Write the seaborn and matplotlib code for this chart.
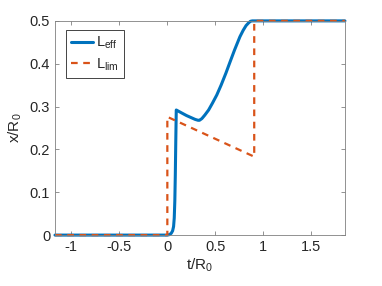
import pandas as pd
import matplotlib
matplotlib.use("Agg")
import matplotlib.pyplot as plt
import seaborn as sns

# L_eff curve
t_eff = [-1.17, 0.0, 0.02, 0.04, 0.055, 0.065, 0.072, 0.078, 0.083, 0.088, 0.093,
         0.15, 0.2, 0.25, 0.29, 0.32, 0.335, 0.36, 0.39, 0.43, 0.47, 0.515, 0.56,
         0.61, 0.653, 0.7, 0.756, 0.79, 0.82, 0.845, 0.865, 0.885, 1.85]
x_eff = [0.0, 0.0, 0.001, 0.004, 0.01, 0.02, 0.04, 0.08, 0.14, 0.22, 0.292,
         0.285, 0.279, 0.274, 0.27, 0.268, 0.268, 0.272, 0.28, 0.292, 0.308, 0.327, 0.35,
         0.378, 0.404, 0.432, 0.463, 0.478, 0.489, 0.495, 0.499, 0.5, 0.5]

# L_lim curve
t_lim = [-1.17, 0.0, 0.0, 0.905, 0.905, 1.85]
x_lim = [0.0, 0.0, 0.276, 0.183, 0.5, 0.5]

blue = "#0072BD"
orange = "#D95319"

sns.set_style("ticks")
plt.rcParams["font.family"] = ["Liberation Sans", "DejaVu Sans"]
plt.rcParams["mathtext.fontset"] = "custom"
plt.rcParams["mathtext.rm"] = "Liberation Sans"
plt.rcParams["mathtext.it"] = "Liberation Sans"

fig = plt.figure(figsize=(3.82, 2.86), dpi=100)
ax = fig.add_axes([0.144, 0.178, 0.759, 0.749])

df_eff = pd.DataFrame({"t": t_eff, "x": x_eff})
df_lim = pd.DataFrame({"t": t_lim, "x": x_lim})

sns.lineplot(data=df_eff, x="t", y="x", ax=ax, color=blue, lw=2.2,
             sort=False, estimator=None, label=r"L$_{\rm eff}$")
sns.lineplot(data=df_lim, x="t", y="x", ax=ax, color=orange, lw=1.6,
             sort=False, estimator=None, label=r"L$_{\rm lim}$",
             linestyle=(0, (3, 2.5)))
for ln in ax.get_lines():
    ln.set_clip_on(False)

ax.set_xlim(-1.17, 1.85)
ax.set_ylim(0, 0.5)
ax.set_xticks([-1, -0.5, 0, 0.5, 1, 1.5])
ax.set_xticklabels(["-1", "-0.5", "0", "0.5", "1", "1.5"])
ax.set_yticks([0, 0.1, 0.2, 0.3, 0.4, 0.5])
ax.set_yticklabels(["0", "0.1", "0.2", "0.3", "0.4", "0.5"])
ax.set_xlabel(r"t/R$_0$", fontsize=11, color="#262626", labelpad=2)
ax.set_ylabel(r"x/R$_0$", fontsize=11, color="#262626", labelpad=4)

ax.tick_params(direction="in", length=3, width=0.6, colors="#262626",
               labelsize=10.5, top=True, right=True, color="#808080")
for s in ax.spines.values():
    s.set_color("#808080")
    s.set_linewidth(0.6)

leg = ax.legend(loc="upper left", bbox_to_anchor=(0.037, 0.958), fontsize=10.5,
                fancybox=False, framealpha=1, edgecolor="#262626",
                borderaxespad=0, handlelength=1.5, borderpad=0.35,
                labelspacing=0.35, handletextpad=0.2)
leg.get_frame().set_linewidth(0.6)

fig.savefig("out.png", dpi=100)
